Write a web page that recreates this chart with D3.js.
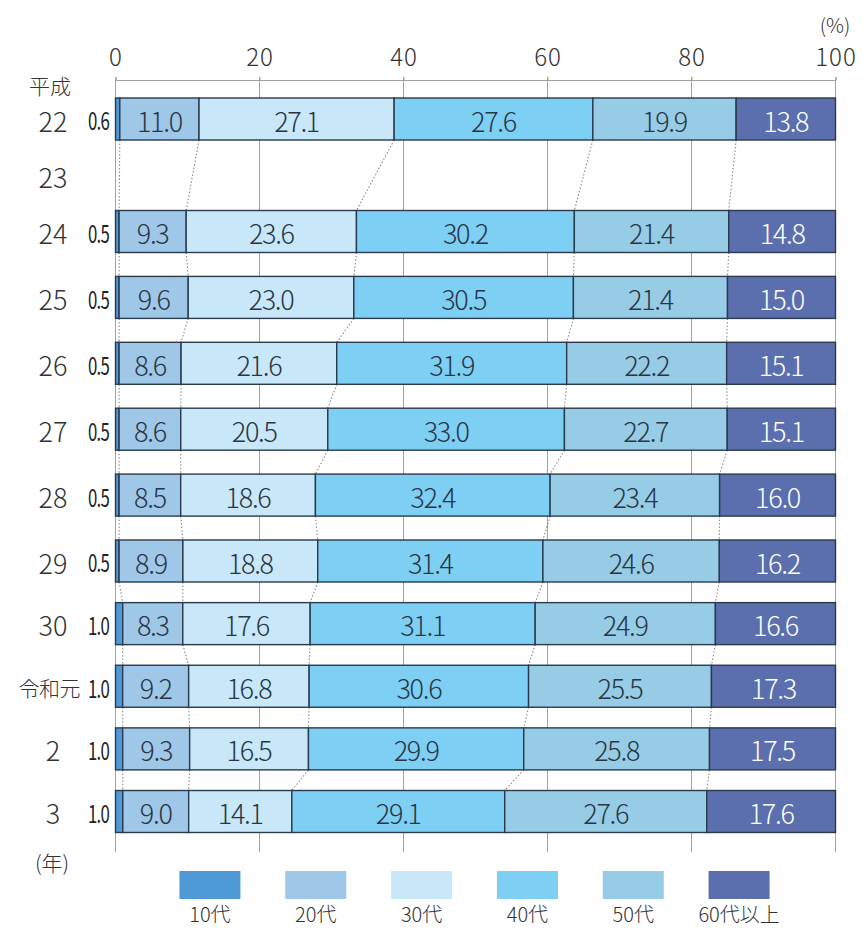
<!DOCTYPE html>
<html lang="ja">
<head>
<meta charset="utf-8">
<script src="https://cdn.jsdelivr.net/npm/d3@7"></script>
<style>
  html, body { margin: 0; padding: 0; background: #fff; }
  svg { display: block; }
  text { font-family: "Noto Sans CJK JP", "Noto Sans", sans-serif; }
</style>
</head>
<body>
<svg id="chart" width="866" height="928"></svg>
<script>
// Age composition by year (%), 平成22年〜令和3年
const years    = ["22", "23", "24", "25", "26", "27", "28", "29", "30", "令和元", "2", "3"];
const series   = ["10代", "20代", "30代", "40代", "50代", "60代以上"];
const teens    = [0.6, null, 0.5, 0.5, 0.5, 0.5, 0.5, 0.5, 1.0, 1.0, 1.0, 1.0];
const twenties = [11.0, null, 9.3, 9.6, 8.6, 8.6, 8.5, 8.9, 8.3, 9.2, 9.3, 9.0];
const thirties = [27.1, null, 23.6, 23.0, 21.6, 20.5, 18.6, 18.8, 17.6, 16.8, 16.5, 14.1];
const forties  = [27.6, null, 30.2, 30.5, 31.9, 33.0, 32.4, 31.4, 31.1, 30.6, 29.9, 29.1];
const fifties  = [19.9, null, 21.4, 21.4, 22.2, 22.7, 23.4, 24.6, 24.9, 25.5, 25.8, 27.6];
const sixties  = [13.8, null, 14.8, 15.0, 15.1, 15.1, 16.0, 16.2, 16.6, 17.3, 17.5, 17.6];
const xTicks   = [0, 20, 40, 60, 80, 100];
const colors   = ["#4f9ad6", "#9fc7e8", "#c8e7f9", "#7dcff3", "#96cce6", "#5b6fae"];

const valueLists = [teens, twenties, thirties, forties, fifties, sixties];
const rows = years.map((y, i) => {
  const r = { year: y, idx: i, empty: teens[i] == null };
  series.forEach((s, k) => { r[s] = valueLists[k][i] == null ? 0 : valueLists[k][i]; });
  return r;
});
const dataRows = rows.filter(r => !r.empty);

const svg = d3.select("#chart");
const FONT_DARK = "#2a3645";

// scales
const x = d3.scaleLinear().domain([0, 100]).range([115.5, 835.5]);
// row centres: the missing year takes a narrower slot
const yc = d3.scaleLinear().domain([0, 2, 7, 11]).range([119, 231.5, 561, 811.5]);
const barH = 42;
const color = d3.scaleOrdinal().domain(series).range(colors);

// 100% stacked layout
const stacked = d3.stack().keys(series).offset(d3.stackOffsetExpand)(dataRows);
const segs = [];
stacked.forEach((layer, k) => {
  layer.forEach(d => {
    segs.push({ key: layer.key, k, row: d.data, x0: d[0] * 100, x1: d[1] * 100, value: d.data[layer.key] });
  });
});

// grid lines
const gridTop = 77, gridBottom = 852;
svg.append("g").selectAll("line").data(xTicks).join("line")
  .attr("x1", d => x(d)).attr("x2", d => x(d))
  .attr("y1", gridTop).attr("y2", gridBottom)
  .attr("stroke", "#a3a3a3").attr("stroke-width", 1);

// top axis
const axis = svg.append("g").attr("transform", "translate(0,80)")
  .call(d3.axisTop(x).tickValues(xTicks).tickSize(3).tickPadding(11).tickFormat(d3.format("d")));
axis.select(".domain").attr("stroke", "#a3a3a3");
axis.selectAll(".tick line").attr("stroke", "#a3a3a3");
axis.selectAll(".tick text")
  .attr("font-size", 24).attr("font-weight", 300).attr("fill", "#333").attr("letter-spacing", "1px")
  .attr("font-family", "\"Noto Sans CJK JP\", \"Noto Sans\", sans-serif");

svg.append("text").attr("x", 835).attr("y", 24).attr("text-anchor", "middle")
  .attr("dominant-baseline", "central").attr("font-size", 20).attr("font-weight", 300)
  .attr("fill", "#333").text("(%)");

// dotted connectors between consecutive bars
const connectors = [];
for (let i = 0; i < dataRows.length - 1; i++) {
  const a = dataRows[i], b = dataRows[i + 1];
  for (let k = 0; k < series.length - 1; k++) {
    const ea = stacked[k].find(d => d.data === a)[1] * 100;
    const eb = stacked[k].find(d => d.data === b)[1] * 100;
    connectors.push({ x1: x(ea), y1: yc(a.idx) + barH / 2, x2: x(eb), y2: yc(b.idx) - barH / 2 });
  }
}
svg.append("g").selectAll("line").data(connectors).join("line")
  .attr("x1", d => d.x1).attr("y1", d => d.y1).attr("x2", d => d.x2).attr("y2", d => d.y2)
  .attr("stroke", "#8a8a8a").attr("stroke-width", 1.1).attr("stroke-dasharray", "1.5 2");

// bars
svg.append("g").selectAll("rect").data(segs).join("rect")
  .attr("x", d => x(d.x0)).attr("width", d => x(d.x1) - x(d.x0))
  .attr("y", d => yc(d.row.idx) - barH / 2).attr("height", barH)
  .attr("fill", d => color(d.key))
  .attr("stroke", "#2b3a4c").attr("stroke-width", 1.4);

// segment labels (teens shown outside, left of the bar)
svg.append("g").selectAll("text").data(segs.filter(d => d.k > 0)).join("text")
  .attr("x", d => x((d.x0 + d.x1) / 2)).attr("y", d => yc(d.row.idx) + 1)
  .attr("text-anchor", "middle").attr("dominant-baseline", "central")
  .attr("font-size", 27).attr("font-weight", 300).attr("letter-spacing", "-1.3px")
  .attr("fill", d => d.k === 5 ? "#ffffff" : FONT_DARK)
  .text(d => d3.format(".1f")(d.value));

svg.append("g").selectAll("text").data(segs.filter(d => d.k === 0)).join("text")
  .attr("transform", d => `translate(${x(0) - 17},${yc(d.row.idx) + 1}) scale(0.7,1)`)
  .attr("text-anchor", "middle").attr("dominant-baseline", "central")
  .attr("font-size", 24).attr("font-weight", 400).attr("letter-spacing", "-1px")
  .attr("fill", "#222")
  .text(d => d3.format(".1f")(d.value));

// year labels
svg.append("g").selectAll("text").data(rows).join("text")
  .attr("x", d => d.year.length > 2 ? 80 : 53)
  .attr("y", d => yc(d.idx) + 1)
  .attr("text-anchor", d => d.year.length > 2 ? "end" : "middle")
  .attr("dominant-baseline", "central")
  .attr("font-size", d => d.year.length > 2 ? 21 : 27)
  .attr("font-weight", 300)
  .attr("letter-spacing", d => d.year.length > 2 ? "-0.5px" : "0px")
  .attr("fill", "#333")
  .text(d => d.year);

svg.append("text").attr("x", 50).attr("y", 85).attr("text-anchor", "middle")
  .attr("dominant-baseline", "central").attr("font-size", 21).attr("font-weight", 300)
  .attr("fill", "#333").text("平成");
svg.append("text").attr("x", 52).attr("y", 862).attr("text-anchor", "middle")
  .attr("dominant-baseline", "central").attr("font-size", 21).attr("font-weight", 300)
  .attr("fill", "#333").text("(年)");

// legend
const lx = d3.scaleBand().domain(series).range([157, 792]);
const legend = svg.append("g").selectAll("g").data(series).join("g")
  .attr("transform", d => `translate(${lx(d) + lx.bandwidth() / 2},0)`);
legend.append("rect").attr("x", -30.5).attr("y", 871).attr("width", 61).attr("height", 28)
  .attr("fill", d => color(d));
legend.append("text").attr("x", 0).attr("y", 913).attr("text-anchor", "middle")
  .attr("dominant-baseline", "central").attr("font-size", 20).attr("font-weight", 300)
  .attr("fill", "#333")
  .text(d => d);
</script>
</body>
</html>
